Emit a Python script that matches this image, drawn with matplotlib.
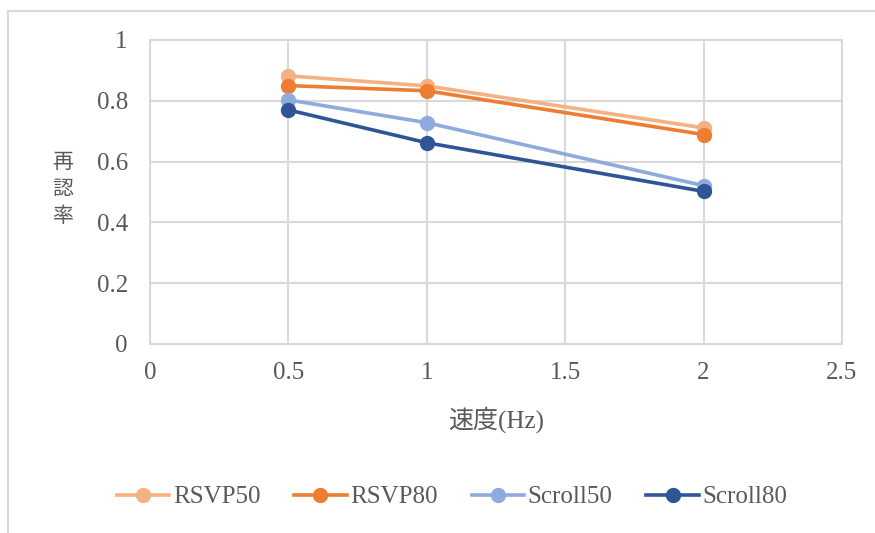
import matplotlib.pyplot as plt
from matplotlib.lines import Line2D

plt.rcParams['font.family'] = ['Liberation Serif', 'Noto Sans CJK JP']

speed = [0.5, 1, 2]
rsvp50 = [0.882, 0.849, 0.711]
rsvp80 = [0.850, 0.833, 0.689]
scroll50 = [0.803, 0.728, 0.521]
scroll80 = [0.770, 0.662, 0.502]

names = ['RSVP50', 'RSVP80', 'Scroll50', 'Scroll80']
colors = ['#F4B183', '#ED7D31', '#8FAADC', '#2F5597']

fig = plt.figure(figsize=(8.75, 5.33), dpi=100)
ax = fig.add_axes([150 / 875, 1 - 344 / 533, 692 / 875, 304 / 533])

for name, vals, c in zip(names, [rsvp50, rsvp80, scroll50, scroll80], colors):
    ax.plot(speed, vals, color=c, linewidth=2.6, marker='o', markersize=10,
            label=name, zorder=3)

ax.set_xlim(0, 2.5)
ax.set_ylim(0, 1)
ax.set_xticks([0, 0.5, 1, 1.5, 2, 2.5])
ax.set_xticklabels(['0', '0.5', '1', '1.5', '2', '2.5'])
ax.set_yticks([0, 0.2, 0.4, 0.6, 0.8, 1])
ax.set_yticklabels(['0', '0.2', '0.4', '0.6', '0.8', '1'])
ax.grid(color='#d9d9d9', linewidth=1.5, zorder=0)
for s in ax.spines.values():
    s.set_color('#d9d9d9')
    s.set_linewidth(1.5)
ax.tick_params(length=0, labelsize=18, labelcolor='#595959')
ax.tick_params(axis='y', pad=16)
ax.tick_params(axis='x', pad=13)

ax.set_xlabel('速度(Hz)', fontsize=18, color='#595959', labelpad=16)
# vertical stacked y label
for i, ch in enumerate('再認率'):
    fig.text(63 / 875, 1 - (163 + 27 * i) / 533, ch, fontsize=15,
             color='#595959', ha='center', va='center')

fig.legend(loc='center', bbox_to_anchor=(452 / 875, 1 - 497 / 533), ncol=4,
           frameon=False, fontsize=18, labelcolor='#595959', handlelength=2.1,
           handletextpad=0.15, columnspacing=1.35)

# outer chart border
fig.add_artist(Line2D([8 / 875, 1], [1 - 11 / 533, 1 - 11 / 533],
                      color='#d9d9d9', linewidth=1.5))
fig.add_artist(Line2D([8 / 875, 8 / 875], [0, 1 - 11 / 533],
                      color='#d9d9d9', linewidth=1.5))

fig.savefig('out.png', dpi=100)
